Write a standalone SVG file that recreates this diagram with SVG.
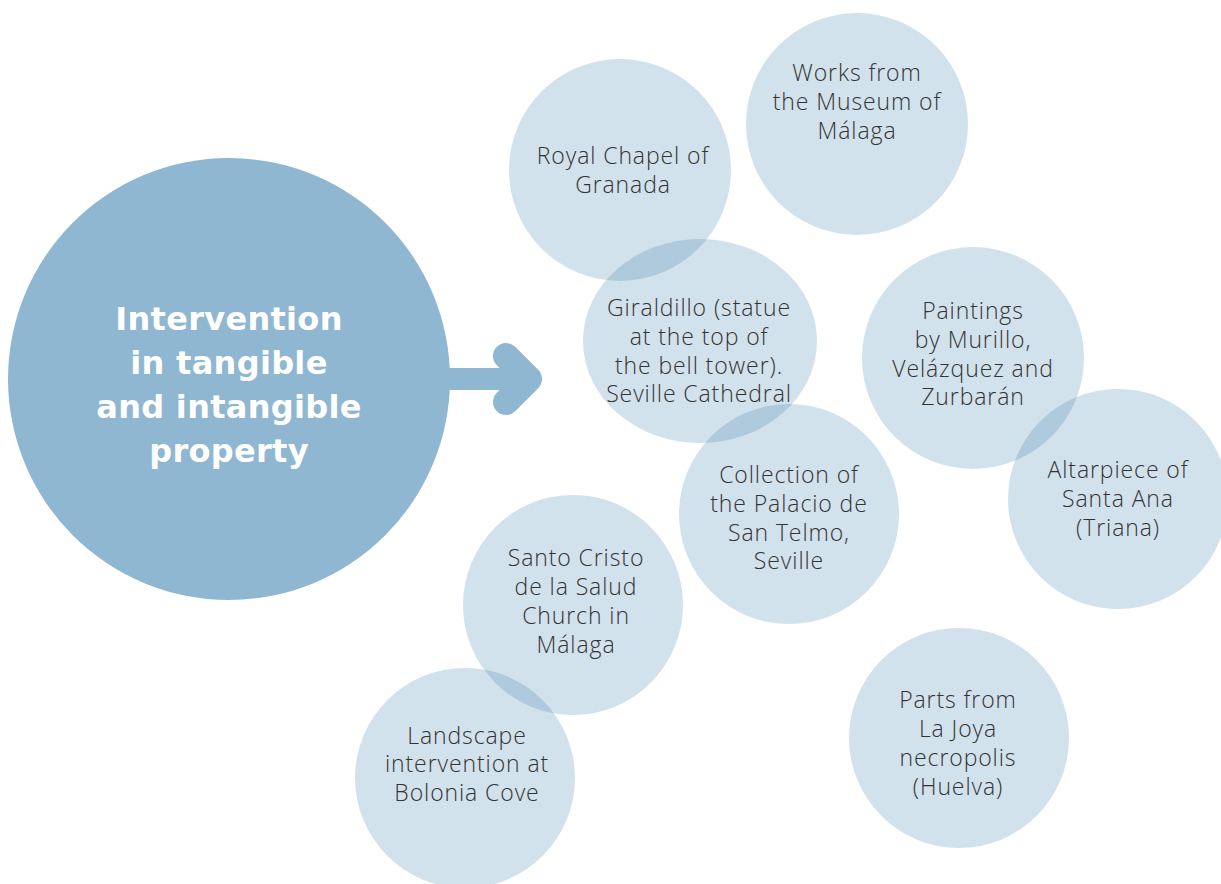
<svg xmlns="http://www.w3.org/2000/svg" width="1221" height="884" viewBox="0 0 1221 884">
<style>
.bub{fill:rgb(30,110,160);fill-opacity:0.2}
.t{font-family:"Open Sans","Liberation Sans",sans-serif;font-weight:300;font-size:23px;letter-spacing:0.9px;fill:#333;text-anchor:middle}
.title{font-family:"DejaVu Sans","Liberation Sans",sans-serif;font-weight:bold;font-size:32px;letter-spacing:0.3px;fill:#fff;text-anchor:middle}
</style>
<rect width="1221" height="884" fill="#fff"/>
<g id="main">
<circle cx="229" cy="379" r="221" fill="#8fb7d1"/>
<text class="title" x="229" y="330">Intervention</text>
<text class="title" x="229" y="374">in tangible</text>
<text class="title" x="229" y="418">and intangible</text>
<text class="title" x="229" y="462">property</text>
</g>
<g id="connectors">
<line x1="440" y1="379" x2="526" y2="379" stroke="#8fb7d1" stroke-width="22"/>
<polyline points="506,356 529,379 506,402" fill="none" stroke="#8fb7d1" stroke-width="26" stroke-linecap="round" stroke-linejoin="round"/>
</g>
<g id="royal-chapel">
<circle class="bub" cx="620" cy="170" r="111"/>
<text class="t" x="623" y="164">Royal Chapel of</text>
<text class="t" x="623" y="193">Granada</text>
</g>
<g id="museum-malaga">
<circle class="bub" cx="857" cy="124" r="111"/>
<text class="t" x="857" y="81">Works from</text>
<text class="t" x="857" y="110">the Museum of</text>
<text class="t" x="857" y="139">Málaga</text>
</g>
<g id="giraldillo">
<ellipse class="bub" cx="700" cy="341" rx="117" ry="102"/>
<text class="t" x="699" y="316">Giraldillo (statue</text>
<text class="t" x="699" y="345">at the top of</text>
<text class="t" x="699" y="374">the bell tower).</text>
<text class="t" x="699" y="402">Seville Cathedral</text>
</g>
<g id="paintings">
<circle class="bub" cx="973" cy="358" r="111"/>
<text class="t" x="973" y="319">Paintings</text>
<text class="t" x="973" y="348">by Murillo,</text>
<text class="t" x="973" y="377">Velázquez and</text>
<text class="t" x="973" y="405">Zurbarán</text>
</g>
<g id="altarpiece">
<circle class="bub" cx="1118" cy="499" r="110"/>
<text class="t" x="1118" y="478">Altarpiece of</text>
<text class="t" x="1118" y="507">Santa Ana</text>
<text class="t" x="1118" y="536">(Triana)</text>
</g>
<g id="san-telmo">
<circle class="bub" cx="789" cy="514" r="110"/>
<text class="t" x="789" y="483">Collection of</text>
<text class="t" x="789" y="512">the Palacio de</text>
<text class="t" x="789" y="541">San Telmo,</text>
<text class="t" x="789" y="569">Seville</text>
</g>
<g id="santo-cristo">
<circle class="bub" cx="573" cy="605" r="110"/>
<text class="t" x="576" y="566">Santo Cristo</text>
<text class="t" x="576" y="595">de la Salud</text>
<text class="t" x="576" y="624">Church in</text>
<text class="t" x="576" y="653">Málaga</text>
</g>
<g id="bolonia">
<circle class="bub" cx="465" cy="778" r="110"/>
<text class="t" x="467" y="744">Landscape</text>
<text class="t" x="467" y="772">intervention at</text>
<text class="t" x="467" y="801">Bolonia Cove</text>
</g>
<g id="la-joya">
<circle class="bub" cx="959" cy="738" r="110"/>
<text class="t" x="958" y="708">Parts from</text>
<text class="t" x="958" y="737">La Joya</text>
<text class="t" x="958" y="766">necropolis</text>
<text class="t" x="958" y="795">(Huelva)</text>
</g>
</svg>
